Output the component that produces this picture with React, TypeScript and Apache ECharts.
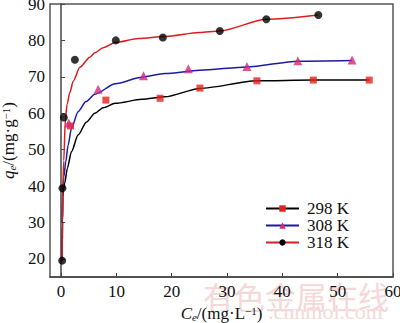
import React, { useEffect, useRef } from "react";
import * as echarts from "echarts";

// Experimental points
const ce298 = [1.7, 8.1, 17.9, 25.1, 35.4, 45.6, 55.7];
const qe298 = [56.5, 63.6, 64.1, 66.9, 68.9, 69.1, 69.1];
const ce308 = [1.4, 6.7, 14.9, 23.0, 33.6, 42.8, 52.6];
const qe308 = [57.3, 66.6, 70.3, 72.2, 72.8, 74.4, 74.6];
const ce318 = [0.2, 0.25, 0.5, 2.5, 9.9, 18.4, 28.7, 37.1, 46.5];
const qe318 = [19.5, 39.4, 58.8, 74.7, 80.0, 80.8, 82.6, 85.8, 87.0];

// Fitted curves
const fitX298 = [0.2, 0.25, 0.3, 0.45, 0.66, 1.14, 1.87, 3.07, 4.6, 6.1, 7.6, 9.8, 14.6, 18.8, 25.1, 35.4, 45.6, 55.7];
const fitY298 = [19.5, 30, 37, 39, 40.8, 44.9, 49.4, 54.0, 57.6, 60.0, 61.5, 62.7, 63.8, 64.5, 66.8, 68.9, 69.1, 69.1];
const fitX308 = [0.2, 0.25, 0.3, 0.5, 0.85, 1.27, 1.87, 3.07, 4.5, 6.1, 9.8, 14.6, 18.8, 25.1, 33.6, 42.8, 52.6];
const fitY308 = [19.5, 30, 38, 42.5, 46.7, 51.2, 55.8, 60.4, 63.2, 65.2, 68.1, 69.9, 70.9, 71.8, 72.7, 74.3, 74.5];
const fitX318 = [0.2, 0.25, 0.3, 0.49, 0.78, 1.1, 1.57, 2.2, 3.4, 5.2, 6.1, 7.6, 9.8, 14.0, 18.8, 25.0, 28.7, 37.1, 46.5];
const fitY318 = [19.5, 30, 39.2, 47, 58.5, 62.5, 65.6, 68.8, 72.6, 75.4, 76.6, 78.0, 79.4, 80.5, 81.1, 82.2, 82.6, 85.8, 87.0];

const seriesNames = ["298 K", "308 K", "318 K"];
const xTicks = [0, 10, 20, 30, 40, 50, 60];
const yTicks = [20, 30, 40, 50, 60, 70, 80, 90];

const zip = (a: number[], b: number[]) => a.map((v, i) => [v, b[i]]);

const FONT = "Liberation Serif";

export default function App() {
  const ref = useRef<HTMLDivElement>(null);
  useEffect(() => {
    if (!ref.current) return;
    const chart = echarts.init(ref.current, null, { renderer: "svg" });
    const lineColors = ["#000000", "#1b1ba8", "#d81e1e"];
    const markColors = ["#e8201a", "#d6257a", "#000000"];
    const symbols = ["rect", "triangle", "circle"];
    const symSizes = [7, 9, 8];
    const fits = [zip(fitX298, fitY298), zip(fitX308, fitY308), zip(fitX318, fitY318)];
    const pts = [zip(ce298, qe298), zip(ce308, qe308), zip(ce318, qe318)];
    const nameRich = {
      i: { fontFamily: FONT, fontSize: 17, fontStyle: "italic", color: "#111" },
      s: { fontFamily: FONT, fontSize: 11, fontStyle: "italic", color: "#111", verticalAlign: "bottom", lineHeight: 12 },
      n: { fontFamily: FONT, fontSize: 17, color: "#111" },
      p: { fontFamily: FONT, fontSize: 11, color: "#111", verticalAlign: "top", lineHeight: 12 },
    };
    const series: any[] = [];
    for (let k = 0; k < 3; k++) {
      series.push({
        name: seriesNames[k],
        type: "line",
        data: fits[k],
        smooth: 0.25,
        smoothMonotone: "x",
        showSymbol: false,
        symbol: symbols[k],
        symbolSize: symSizes[k],
        itemStyle: { color: markColors[k] },
        lineStyle: { color: lineColors[k], width: 1.5 },
        z: 2,
      });
    }
    for (let k = 0; k < 3; k++) {
      series.push({
        name: seriesNames[k],
        type: "scatter",
        data: pts[k],
        symbol: symbols[k],
        symbolSize: symSizes[k],
        itemStyle: { color: markColors[k] },
        z: 3,
      });
    }
    chart.setOption({
      animation: false,
      textStyle: { fontFamily: FONT },
      grid: {
        left: 50, right: 7, top: 4, bottom: 46,
        show: true, borderColor: "#555", borderWidth: 1.5,
        containLabel: false, outerBoundsMode: "none",
      },
      legend: {
        data: seriesNames,
        orient: "vertical",
        left: 265,
        top: 200,
        padding: 0,
        itemWidth: 33,
        itemHeight: 8,
        itemGap: 0,
        textStyle: { fontFamily: FONT, fontSize: 17, color: "#111", lineHeight: 17, padding: [0, 0, 0, 3] },
      },
      xAxis: {
        type: "value",
        min: -2,
        max: 60,
        name: "{i|C}{s|e}{n|/(mg·L}{p|−1}{n|)}",
        nameLocation: "middle",
        nameGap: 28,
        nameTextStyle: { fontFamily: FONT, rich: nameRich },
        axisLine: { lineStyle: { color: "#444", width: 1.5 } },
        axisTick: { inside: true, length: 4, customValues: xTicks, lineStyle: { color: "#444" } },
        axisLabel: { customValues: xTicks, fontFamily: FONT, fontSize: 17, color: "#111", margin: 6, hideOverlap: false },
        splitLine: { show: false },
      },
      yAxis: {
        type: "value",
        min: 15,
        max: 90,
        name: "{i|q}{s|e}{n|/(mg·g}{p|−1}{n|)}",
        nameLocation: "middle",
        nameRotate: 90,
        nameGap: 33,
        nameTextStyle: { fontFamily: FONT, rich: nameRich },
        axisLine: { lineStyle: { color: "#444", width: 1.5 } },
        axisTick: { inside: true, length: 4, customValues: yTicks, lineStyle: { color: "#444" } },
        axisLabel: { customValues: yTicks, fontFamily: FONT, fontSize: 17, color: "#111", margin: 5, hideOverlap: false },
        splitLine: { show: false },
      },
      graphic: [
        {
          type: "text",
          left: 203,
          top: 280,
          z: -1,
          silent: true,
          style: { text: "有色金属在线", fontFamily: "Noto Sans CJK SC", fontSize: 31, fill: "#f5d8d8" },
        },
        {
          type: "text",
          left: 268,
          top: 300,
          z: -1,
          silent: true,
          style: { text: ".cnnmol.com", fontFamily: FONT, fontSize: 22, fill: "#f5d8d8" },
        },
      ],
      series,
    });
    return () => chart.dispose();
  }, []);
  return <div ref={ref} style={{ width: 400, height: 323, position: "absolute", left: 0, top: 0 }} />;
}
